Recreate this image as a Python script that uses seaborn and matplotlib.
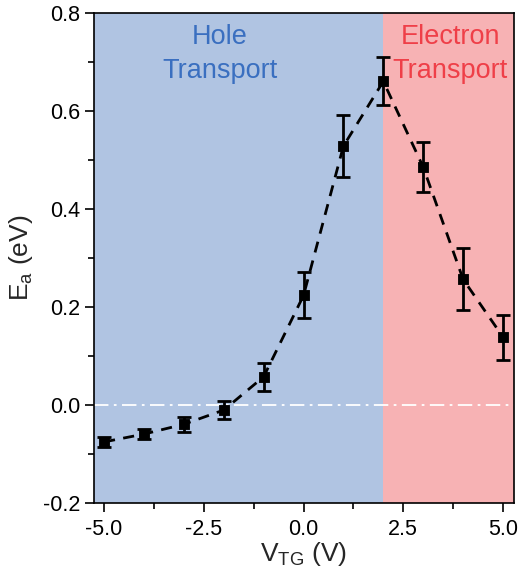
import numpy as np
import matplotlib
matplotlib.use("Agg")
import matplotlib.pyplot as plt
import seaborn as sns

# Activation energy vs top-gate voltage
v_tg = [-5, -4, -3, -2, -1, 0, 1, 2, 3, 4, 5]
e_a = [-0.075, -0.059, -0.039, -0.010, 0.058, 0.224, 0.529, 0.661, 0.486, 0.257, 0.139]
e_err = [0.010, 0.010, 0.015, 0.019, 0.029, 0.047, 0.064, 0.049, 0.051, 0.063, 0.046]

boundary = 2.0
xlim = (-5.25, 5.27)
ylim = (-0.2, 0.8)

sns.set_theme(style="ticks")
plt.rcParams['font.family'] = ['Liberation Sans', 'DejaVu Sans']
plt.rcParams['mathtext.fontset'] = 'custom'
plt.rcParams['mathtext.rm'] = 'Liberation Sans'
plt.rcParams['mathtext.it'] = 'Liberation Sans'

fig = plt.figure(figsize=(5.2, 5.77), dpi=100)
ax = fig.add_axes([0.181, 0.128, 0.807, 0.849])

# shaded regions
ax.axvspan(xlim[0], boundary, color="#b0c4e2", lw=0, zorder=0)
ax.axvspan(boundary, xlim[1], color="#f7b2b4", lw=0, zorder=0)
ax.axhline(0, color="white", lw=1.3, ls=(0, (8, 3, 1.5, 3)), zorder=1)

sns.lineplot(x=v_tg, y=e_a, ax=ax, color="black", lw=2, dashes=False,
             linestyle=(0, (4, 3)), zorder=2)
ax.errorbar(v_tg, e_a, yerr=e_err, fmt="none", ecolor="black", elinewidth=2,
            capsize=5, capthick=2, zorder=3)
sns.scatterplot(x=v_tg, y=e_a, ax=ax, marker="s", s=60, color="black",
                edgecolor="black", zorder=4)

ax.text(-2.1, 0.752, "Hole", color="#3a6fc0", fontsize=19.5, ha="center", va="center")
ax.text(-2.1, 0.682, "Transport", color="#3a6fc0", fontsize=19.5, ha="center", va="center")
ax.text(3.68, 0.752, "Electron", color="#ef3f48", fontsize=19.5, ha="center", va="center")
ax.text(3.68, 0.682, "Transport", color="#ef3f48", fontsize=19.5, ha="center", va="center")

ax.set_xlim(*xlim)
ax.set_ylim(*ylim)
ax.set_xticks([-5.0, -2.5, 0.0, 2.5, 5.0])
ax.set_xticks(np.arange(-5.0, 5.01, 1.25), minor=True)
ax.set_yticks(np.arange(-0.2, 0.81, 0.2))
ax.set_yticks(np.arange(-0.2, 0.81, 0.1), minor=True)
ax.xaxis.set_major_formatter(matplotlib.ticker.FormatStrFormatter("%.1f"))
ax.yaxis.set_major_formatter(matplotlib.ticker.FormatStrFormatter("%.1f"))
ax.tick_params(which="major", direction="out", length=6.5, width=1.2, colors="black",
               labelsize=15.5)
ax.tick_params(which="minor", direction="out", length=4, width=1.2, colors="black")
ax.tick_params(axis="x", which="major", pad=5)
ax.tick_params(axis="y", which="major", pad=3.5)
for s in ax.spines.values():
    s.set_color("black")
    s.set_linewidth(1.2)

ax.set_xlabel(r"V$_{\mathrm{TG}}$ (V)", fontsize=19, labelpad=0)
ax.set_ylabel(r"E$_{\mathrm{a}}$ (eV)", fontsize=19, labelpad=6)

fig.savefig("out.png", dpi=100)
